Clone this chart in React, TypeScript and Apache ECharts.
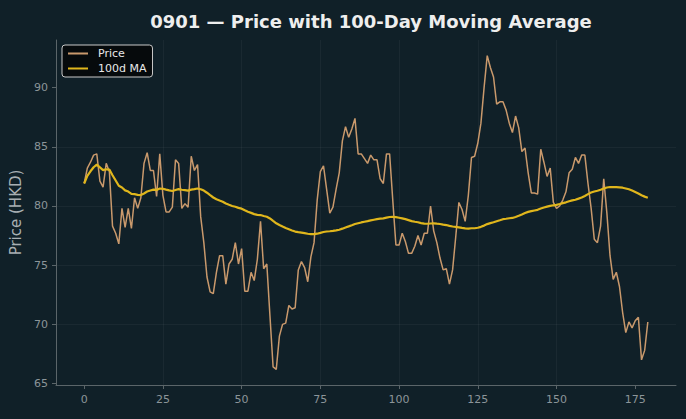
import React, { useEffect, useRef } from "react";
import * as echarts from "echarts";

const TITLE = "0901 — Price with 100-Day Moving Average";
const Y_LABEL = "Price (HKD)";
const SERIES_NAMES = ["Price", "100d MA"];
const X_TICKS = [0, 25, 50, 75, 100, 125, 150, 175];
const Y_TICKS = [65, 70, 75, 80, 85, 90];
const MA_WINDOW = 100;

const PRICE = [
  81.9, 83.2, 83.7, 84.3, 84.4, 82.1, 81.6, 83.6, 82.9, 78.3,
  77.7, 76.8, 79.8, 78.2, 79.8, 78.1, 80.7, 79.8, 80.7, 83.6,
  84.5, 83.0, 83.0, 80.8, 84.4, 80.9, 79.5, 79.5, 79.9, 83.9,
  83.6, 79.8, 80.2, 79.9, 84.2, 83.0, 83.5, 79.1, 76.9, 74.0,
  72.75, 72.6, 74.4, 75.8, 75.8, 73.4, 75.1, 75.5, 76.9, 75.1,
  76.4, 72.8, 72.8, 74.4, 73.7, 75.5, 78.7, 74.7, 75.1, 70.7,
  66.4, 66.2, 69.0, 70.0, 70.1, 71.6, 71.3, 71.4, 74.6, 75.3,
  74.8, 73.6, 75.7, 76.9, 80.5, 82.9, 83.4, 81.4, 79.4, 79.9,
  81.4, 82.8, 85.5, 86.7, 85.8, 86.5, 87.4, 84.4, 84.4, 84.0,
  83.6, 84.3, 83.9, 83.9, 82.3, 81.9, 84.4, 84.4, 80.5, 76.7,
  76.7, 77.7, 77.0, 76.0, 76.0, 76.6, 77.5, 76.7, 77.7, 77.7,
  80.0, 77.9, 76.9, 75.6, 74.6, 74.7, 73.4, 74.6, 77.4, 80.3,
  79.7, 78.7, 80.9, 84.1, 84.2, 85.3, 87.0, 90.0, 92.7, 91.7,
  90.9, 88.6, 88.8, 88.8, 88.1, 87.0, 86.2, 87.6, 86.6, 84.6,
  84.9, 82.8, 81.1, 81.1, 81.0, 84.8, 83.7, 82.5, 83.2, 80.3,
  79.8, 80.0, 80.5, 81.2, 82.8, 83.1, 84.1, 83.6, 84.3, 84.3,
  81.9, 79.8, 77.2, 76.9, 78.3, 82.3, 79.4, 75.8, 73.8, 74.4,
  73.2, 71.0, 69.3, 70.2, 69.7, 70.3, 70.6, 67.0, 67.8, 70.2,
];

function rollingMean(vals: number[], w: number): number[] {
  const out: number[] = [];
  for (let i = 0; i < vals.length; i++) {
    const s = Math.max(0, i - w + 1);
    let sum = 0;
    for (let j = s; j <= i; j++) sum += vals[j];
    out.push(sum / (i - s + 1));
  }
  return out;
}

const FONT = "DejaVu Sans";
const AXIS_COLOR = "#5b6569";
const TICK_LABEL = "#8c9599";
const GRID_COLOR = "rgba(255,255,255,0.045)";

export default function App() {
  const ref = useRef<HTMLDivElement>(null);
  useEffect(() => {
    if (!ref.current) return;
    const chart = echarts.init(ref.current, null, { renderer: "svg" });
    const ma = rollingMean(PRICE, MA_WINDOW);
    const priceData = PRICE.map((v, i) => [i, v]);
    const maData = ma.map((v, i) => [i, v]);
    const n = PRICE.length - 1;
    const xPad = n * 0.05;
    const all = PRICE.concat(ma);
    const lo = Math.min(...all);
    const hi = Math.max(...all);
    const yPad = (hi - lo) * 0.05;

    chart.setOption({
      animation: false,
      backgroundColor: "#102028",
      title: {
        text: TITLE,
        left: 366,
        textAlign: "center",
        top: 7,
        textStyle: { color: "#eeeeee", fontSize: 18, fontWeight: "bold", fontFamily: FONT },
      },
      legend: {
        orient: "vertical",
        left: 62,
        top: 45,
        icon: "rect",
        itemWidth: 20,
        itemHeight: 2,
        itemGap: 4,
        padding: [3, 6, 3, 6],
        backgroundColor: "#060a0c",
        borderColor: "#c8c8c8",
        borderWidth: 1,
        borderRadius: 3,
        data: SERIES_NAMES,
        textStyle: { color: "#e8e8e8", fontSize: 11, fontFamily: FONT, padding: [0, 0, 0, 5] },
      },
      grid: { left: 56, right: 10, top: 40, bottom: 34 },
      xAxis: {
        type: "value",
        min: -xPad,
        max: n + xPad,
        minInterval: 25,
        maxInterval: 25,
        axisLine: { show: true, onZero: false, lineStyle: { color: AXIS_COLOR } },
        axisTick: { show: true, length: 4, customValues: X_TICKS, lineStyle: { color: AXIS_COLOR } },
        axisLabel: { customValues: X_TICKS, color: TICK_LABEL, fontSize: 11, fontFamily: FONT, margin: 9 },
        splitLine: { show: true, showMinLine: false, showMaxLine: false, lineStyle: { color: GRID_COLOR } },
      },
      yAxis: {
        type: "value",
        min: lo - yPad,
        max: hi + yPad,
        minInterval: 5,
        maxInterval: 5,
        name: Y_LABEL,
        nameLocation: "middle",
        nameGap: 31,
        nameTextStyle: { color: "#a8afb3", fontSize: 15, fontFamily: FONT },
        axisLine: { show: true, onZero: false, lineStyle: { color: AXIS_COLOR } },
        axisTick: { show: true, length: 4, customValues: Y_TICKS, lineStyle: { color: AXIS_COLOR } },
        axisLabel: { customValues: Y_TICKS, color: TICK_LABEL, fontSize: 11, fontFamily: FONT, margin: 8 },
        splitLine: { show: true, showMinLine: false, showMaxLine: false, lineStyle: { color: GRID_COLOR } },
      },
      series: [
        {
          name: SERIES_NAMES[0],
          type: "line",
          data: priceData,
          showSymbol: false,
          symbol: "none",
          lineStyle: { color: "#c9996c", width: 1.5 },
          itemStyle: { color: "#c9996c" },
          z: 2,
        },
        {
          name: SERIES_NAMES[1],
          type: "line",
          data: maData,
          showSymbol: false,
          symbol: "none",
          lineStyle: { color: "#e0b61c", width: 2.2 },
          itemStyle: { color: "#e0b61c" },
          z: 3,
        },
      ],
    });
    return () => chart.dispose();
  }, []);
  return <div ref={ref} style={{ position: "fixed", left: 0, top: 0, width: 686, height: 419 }} />;
}
